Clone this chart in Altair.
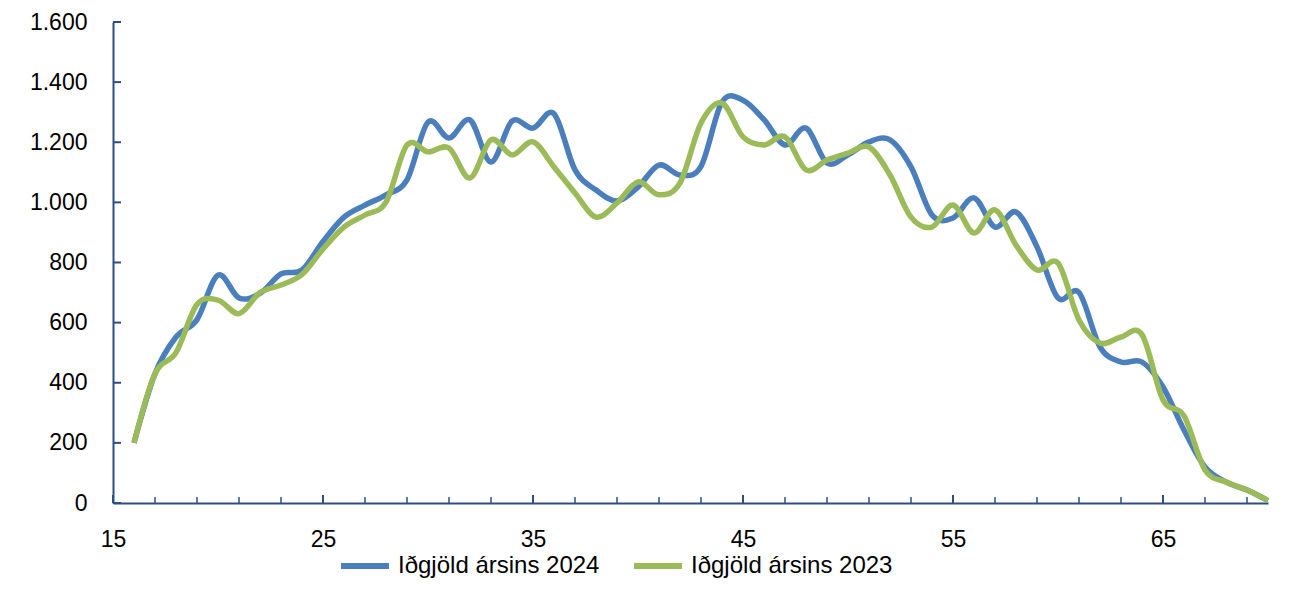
import altair as alt
import pandas as pd

ages = list(range(16, 71))
series_2024 = [200, 430, 552, 610, 758, 682, 697, 762, 775, 870,
               951, 991, 1025, 1075, 1267, 1214, 1274, 1134, 1270, 1247,
               1295, 1108, 1041, 1005, 1051, 1124, 1091, 1120, 1334, 1340,
               1275, 1191, 1247, 1131, 1158, 1201, 1208, 1118, 958, 948,
               1015, 918, 968, 852, 682, 700, 519, 469, 469, 386,
               243, 120, 70, 43, 8]
series_2023 = [200, 430, 500, 660, 675, 630, 700, 725, 760, 845,
               918, 958, 1001, 1191, 1168, 1181, 1081, 1208, 1158, 1201,
               1118, 1031, 951, 998, 1068, 1025, 1065, 1264, 1330, 1218,
               1191, 1218, 1108, 1141, 1164, 1184, 1091, 951, 918, 991,
               898, 975, 858, 775, 798, 609, 532, 552, 560, 343,
               290, 110, 70, 43, 8]
names = ["Iðgjöld ársins 2024", "Iðgjöld ársins 2023"]
colors = ["#4A7EBC", "#9BBB59"]
x_label_values = [15, 25, 35, 45, 55, 65]
x_minor_ticks = list(range(15, 70, 2))
y_tick_values = list(range(0, 1601, 200))

df = pd.concat([
    pd.DataFrame({"age": ages, "value": series_2024, "series": names[0]}),
    pd.DataFrame({"age": ages, "value": series_2023, "series": names[1]}),
])

AX = "#2B4E86"
FONT = "Liberation Sans"
FS = 23
W, H = 1155, 481

xscale = alt.Scale(domain=[15, 70], nice=False)
yscale = alt.Scale(domain=[0, 1600], nice=False)

xaxis = alt.Axis(values=x_label_values, ticks=False, grid=False,
                 domainColor=AX, domainWidth=2, labelFontSize=FS, labelFlush=False,
                 labelFont=FONT, labelColor="#000000", labelPadding=25)
yaxis = alt.Axis(values=y_tick_values, ticks=False, grid=False,
                 domainColor=AX, domainWidth=2, labelFontSize=FS,
                 labelFont=FONT, labelColor="#000000", labelPadding=26,
                 format=",.0f")

lines = alt.Chart(df).mark_line(strokeWidth=5.5, interpolate="cardinal").encode(
    x=alt.X("age:Q", scale=xscale, title=None, axis=xaxis),
    y=alt.Y("value:Q", scale=yscale, title=None, axis=yaxis),
    color=alt.Color("series:N", sort=names,
                    scale=alt.Scale(domain=names, range=colors),
                    legend=alt.Legend(title=None, orient="none", legendX=225, legendY=517,
                                      direction="horizontal", symbolType="stroke",
                                      symbolStrokeWidth=6, symbolSize=2300,
                                      labelFontSize=24, labelFont=FONT, labelLimit=0,
                                      labelColor="#000000", columnPadding=22,
                                      labelOffset=6)),
    order=alt.Order("age:Q"),
)

xt_df = pd.DataFrame({"t": x_minor_ticks})
xt_major = pd.DataFrame({"t": x_label_values})
yt_df = pd.DataFrame({"t": y_tick_values})

x_minor = alt.Chart(xt_df).mark_rule(color=AX, strokeWidth=1.5).encode(
    x=alt.X("t:Q", scale=xscale, title=None, axis=xaxis),
    y=alt.value(H), y2=alt.value(H - 6))
x_major = alt.Chart(xt_major).mark_rule(color=AX, strokeWidth=2).encode(
    x=alt.X("t:Q", scale=xscale, title=None, axis=xaxis),
    y=alt.value(H), y2=alt.value(H - 8))
y_ticks = alt.Chart(yt_df).mark_rule(color=AX, strokeWidth=2).encode(
    y=alt.Y("t:Q", scale=yscale, title=None, axis=yaxis),
    x=alt.value(0), x2=alt.value(8))

chart = alt.layer(x_minor, x_major, y_ticks, lines).properties(
    width=W, height=H,
    autosize=alt.AutoSizeParams(type="none"),
    padding={"left": 105, "top": 14, "right": 16, "bottom": 90},
).configure(
    view=alt.ViewConfig(stroke=None),
    locale={"number": {"decimal": ",", "thousands": ".", "grouping": [3], "currency": ["", ""]}},
)

chart.save("out.html", embed_options={"renderer": "svg", "actions": False})
